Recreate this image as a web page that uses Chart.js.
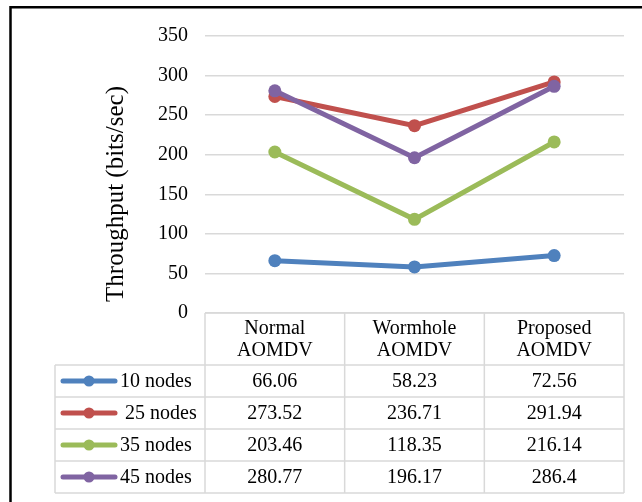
<!DOCTYPE html>
<html><head><meta charset="utf-8">
<script src="https://cdn.jsdelivr.net/npm/chart.js@4/dist/chart.umd.min.js"></script>
<style>html,body{margin:0;padding:0;background:#fff;overflow:hidden}#wrap{position:relative;width:642px;height:502px}</style>
</head><body><div id="wrap"><canvas id="c" width="642" height="502"></canvas></div>
<script>
const categories = [['Normal','AOMDV'],['Wormhole','AOMDV'],['Proposed','AOMDV']];
const seriesNames = ['10 nodes','25 nodes','35 nodes','45 nodes'];
const nodes10 = [66.06, 58.23, 72.56];
const nodes25 = [273.52, 236.71, 291.94];
const nodes35 = [203.46, 118.35, 216.14];
const nodes45 = [280.77, 196.17, 286.4];
const yTicks = [0, 50, 100, 150, 200, 250, 300, 350];
const yTitle = 'Throughput (bits/sec)';

const seriesValues = [nodes10, nodes25, nodes35, nodes45];
const colors = ['#4F81BD', '#C0504D', '#9BBB59', '#8064A2'];
const FONT = "'Liberation Serif', 'Times New Roman', serif";
const GRID = '#d9d9d9';

const framePlugin = {
  id: 'frame',
  beforeDraw(chart) {
    const ctx = chart.ctx;
    ctx.save();
    ctx.fillStyle = '#fff';
    ctx.fillRect(0, 0, chart.width, chart.height);
    ctx.strokeStyle = '#000';
    ctx.lineWidth = 2.5;
    ctx.beginPath();
    ctx.moveTo(10.5, chart.height + 5);
    ctx.lineTo(10.5, 7.3);
    ctx.lineTo(chart.width + 5, 7.3);
    ctx.stroke();
    ctx.restore();
  }
};

const tablePlugin = {
  id: 'datatable',
  afterDraw(chart) {
    const ctx = chart.ctx;
    const xs = chart.scales.x;
    const a = chart.chartArea;
    const step = xs.getPixelForValue(1) - xs.getPixelForValue(0);
    const centers = categories.map((c, i) => xs.getPixelForValue(i));
    const edges = [a.left].concat(centers.map(c => c + step / 2));
    const top = a.bottom;
    const headH = 52, rowH = 32;
    const tableLeft = 55;
    const bottom = top + headH + rowH * seriesNames.length;

    ctx.save();
    ctx.strokeStyle = GRID;
    ctx.lineWidth = 1.5;
    ctx.beginPath();
    ctx.moveTo(a.left, top); ctx.lineTo(a.right, top);
    for (let k = 0; k <= seriesNames.length; k++) {
      const y = top + headH + k * rowH;
      ctx.moveTo(tableLeft, y); ctx.lineTo(a.right, y);
    }
    edges.forEach(x => { ctx.moveTo(x, top); ctx.lineTo(x, bottom); });
    ctx.moveTo(tableLeft, top + headH); ctx.lineTo(tableLeft, bottom);
    ctx.stroke();

    ctx.fillStyle = '#000';
    ctx.font = '20px ' + FONT;
    ctx.textAlign = 'center';
    ctx.textBaseline = 'middle';
    categories.forEach((lines, i) => {
      lines.forEach((t, j) => {
        ctx.fillText(t, centers[i], top + headH / 2 + (j - (lines.length - 1) / 2) * 22 + 1);
      });
    });

    seriesNames.forEach((name, s) => {
      const cy = top + headH + s * rowH + rowH / 2;
      ctx.strokeStyle = colors[s];
      ctx.lineWidth = 5;
      ctx.lineCap = 'round';
      ctx.beginPath();
      ctx.moveTo(tableLeft + 8, cy); ctx.lineTo(tableLeft + 60, cy);
      ctx.stroke();
      ctx.fillStyle = colors[s];
      ctx.beginPath();
      ctx.arc(tableLeft + 34, cy, 5.5, 0, Math.PI * 2);
      ctx.fill();
      ctx.fillStyle = '#000';
      ctx.textAlign = 'left';
      ctx.fillText(name, tableLeft + 65 + (s === 1 ? 5 : 0), cy + 1);
      ctx.textAlign = 'center';
      seriesValues[s].forEach((v, i) => {
        ctx.fillText(String(v), centers[i], cy + 1);
      });
    });

    ctx.translate(123, 194);
    ctx.rotate(-Math.PI / 2);
    ctx.font = '25px ' + FONT;
    ctx.textAlign = 'center';
    ctx.textBaseline = 'alphabetic';
    ctx.fillText(yTitle, 0, 0);
    ctx.restore();
  }
};

new Chart(document.getElementById('c'), {
  type: 'line',
  data: {
    labels: categories,
    datasets: seriesNames.map((name, s) => ({
      label: name,
      data: seriesValues[s],
      borderColor: colors[s],
      backgroundColor: colors[s],
      pointBackgroundColor: colors[s],
      pointBorderColor: colors[s],
      borderWidth: 5,
      pointRadius: 6.5,
      pointBorderWidth: 0,
      tension: 0,
      order: seriesNames.length - s
    }))
  },
  options: {
    responsive: false,
    animation: false,
    devicePixelRatio: 1,
    layout: { padding: { left: 20, right: 18, top: 36, bottom: 189 } },
    plugins: { legend: { display: false }, tooltip: { enabled: false } },
    scales: {
      x: { type: 'category', offset: true, display: false, grid: { display: false } },
      y: {
        min: 0, max: 350,
        afterBuildTicks: s => { s.ticks = yTicks.map(v => ({ value: v })); },
        afterFit: s => { s.width = 185; },
        border: { display: false },
        grid: { color: GRID, lineWidth: 1.5, drawTicks: false },
        ticks: { color: '#000', padding: 17, font: { family: FONT, size: 20 } }
      }
    }
  },
  plugins: [framePlugin, tablePlugin]
});
</script>
</body></html>
